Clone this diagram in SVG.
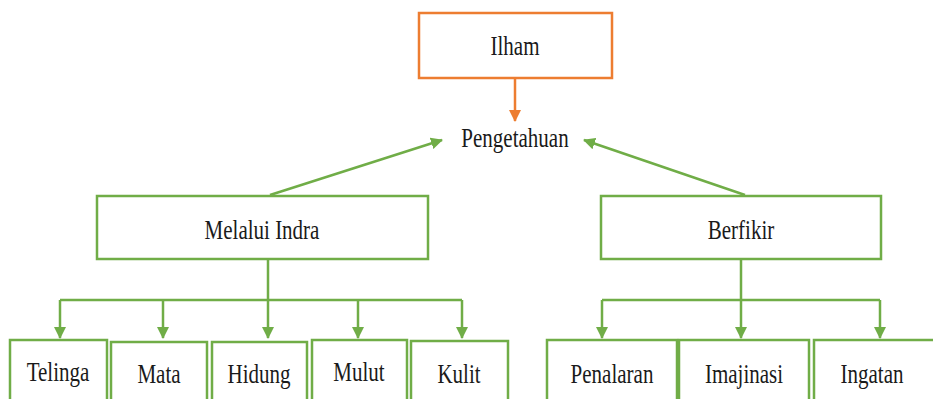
<svg xmlns="http://www.w3.org/2000/svg" width="933" height="399" viewBox="0 0 933 399">
<style>
.box{fill:#fff;stroke:#70AD47;stroke-width:2.5}
.obox{fill:#fff;stroke:#ED7D31;stroke-width:2.5}
.g{stroke:#70AD47;stroke-width:2.5;fill:none}
.o{stroke:#ED7D31;stroke-width:2.5;fill:none}
text{font-family:"Liberation Serif","DejaVu Serif",serif;font-size:21px;fill:#1a1a1a;text-anchor:middle}
</style>
<defs>
<marker id="ag" markerWidth="12" markerHeight="12" refX="11" refY="6" orient="auto" markerUnits="userSpaceOnUse"><path d="M0,0 L12,6 L0,12 Z" fill="#70AD47"/></marker>
<marker id="ao" markerWidth="12" markerHeight="12" refX="11" refY="6" orient="auto" markerUnits="userSpaceOnUse"><path d="M0,0 L12,6 L0,12 Z" fill="#ED7D31"/></marker>
</defs>
<rect width="933" height="399" fill="#fff"/>
<g id="connectors">
<line class="o" x1="515" y1="78" x2="515" y2="121" marker-end="url(#ao)"/>
<line class="g" x1="270" y1="195" x2="442" y2="140" marker-end="url(#ag)"/>
<line class="g" x1="745" y1="195" x2="584" y2="140" marker-end="url(#ag)"/>
<path class="g" d="M268,259 V300 M60,300 H462"/>
<line class="g" x1="60" y1="300" x2="60" y2="338" marker-end="url(#ag)"/>
<line class="g" x1="163" y1="300" x2="163" y2="338" marker-end="url(#ag)"/>
<line class="g" x1="268" y1="300" x2="268" y2="338" marker-end="url(#ag)"/>
<line class="g" x1="358" y1="300" x2="358" y2="338" marker-end="url(#ag)"/>
<line class="g" x1="462" y1="300" x2="462" y2="338" marker-end="url(#ag)"/>
<path class="g" d="M741,259 V300 M602,300 H880"/>
<line class="g" x1="602" y1="300" x2="602" y2="338" marker-end="url(#ag)"/>
<line class="g" x1="741" y1="300" x2="741" y2="338" marker-end="url(#ag)"/>
<line class="g" x1="880" y1="300" x2="880" y2="338" marker-end="url(#ag)"/>
</g>
<g id="ilham"><rect class="obox" x="419" y="13" width="193" height="65"/><text transform="translate(515,55) scale(1,1.25)">Ilham</text></g>
<g id="pengetahuan"><text transform="translate(515,147) scale(1,1.25)">Pengetahuan</text></g>
<g id="melalui-indra"><rect class="box" x="97" y="196" width="331" height="63"/><text transform="translate(262,239) scale(1,1.25)">Melalui Indra</text></g>
<g id="berfikir"><rect class="box" x="601" y="196" width="280" height="63"/><text transform="translate(741,239) scale(1,1.25)">Berfikir</text></g>
<g id="telinga"><rect class="box" x="10" y="340" width="97" height="70"/><text transform="translate(58,381) scale(1,1.25)">Telinga</text></g>
<g id="mata"><rect class="box" x="111" y="342" width="96" height="70"/><text transform="translate(159,383) scale(1,1.25)">Mata</text></g>
<g id="hidung"><rect class="box" x="212" y="342" width="95" height="70"/><text transform="translate(259,383) scale(1,1.25)">Hidung</text></g>
<g id="mulut"><rect class="box" x="312" y="340" width="95" height="70"/><text transform="translate(359,381) scale(1,1.25)">Mulut</text></g>
<g id="kulit"><rect class="box" x="411" y="341" width="97" height="70"/><text transform="translate(459,383) scale(1,1.25)">Kulit</text></g>
<g id="penalaran"><rect class="box" x="547" y="340" width="130" height="70"/><text transform="translate(612,383) scale(1,1.25)">Penalaran</text></g>
<g id="imajinasi"><rect class="box" x="679" y="340" width="130" height="70"/><text transform="translate(744,383) scale(1,1.25)">Imajinasi</text></g>
<g id="ingatan"><rect class="box" x="814" y="340" width="130" height="70"/><text transform="translate(872,383) scale(1,1.25)">Ingatan</text></g>
</svg>
